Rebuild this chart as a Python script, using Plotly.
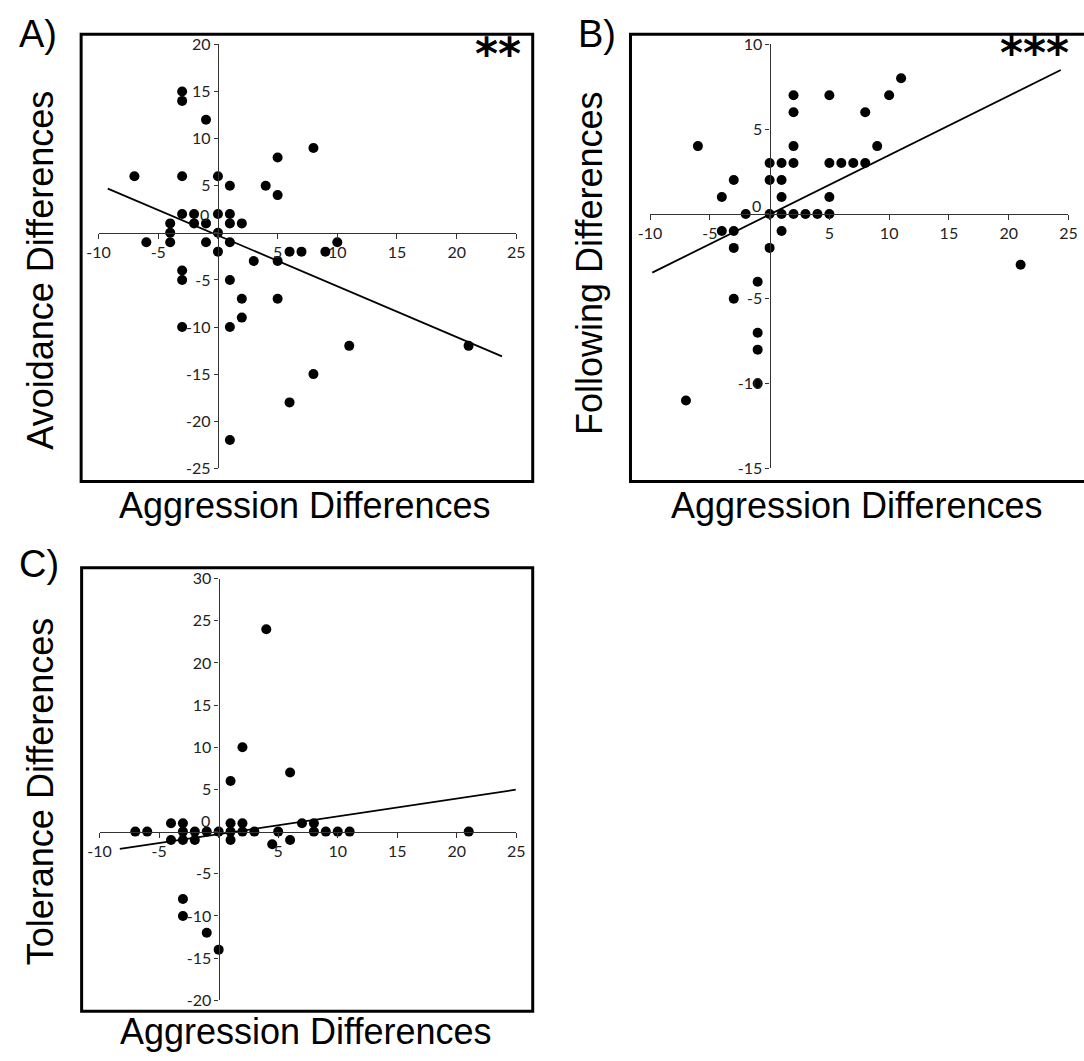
import plotly.graph_objects as go

W, H = 1084, 1061

# ---------------- data ----------------
# Panel A: Aggression vs Avoidance differences
A_x = [-3, -3, -1, 8, 5, -7, -3, 0, 1, 4, 5, -3, -2, 0, 1, -4, -2, -1, 1, 2,
       -4, 0, -6, -4, -1, 1, 10, 0, 6, 7, 9, 3, 5, -3, -3, 1, 2, 5, 2, -3,
       1, 11, 21, 8, 6, 1]
A_y = [15, 14, 12, 9, 8, 6, 6, 6, 5, 5, 4, 2, 2, 2, 2, 1, 1, 1, 1, 1,
       0, 0, -1, -1, -1, -1, -1, -2, -2, -2, -2, -3, -3, -4, -5, -5, -7, -7, -9, -10,
       -10, -12, -12, -15, -18, -22]
A_fit_x = [-9.23, 23.8]
A_fit_slope = -0.539
A_fit_intercept = -0.28

# Panel B: Aggression vs Following differences
B_x = [11, 2, 5, 10, 2, 8, -6, 2, 9, 0, 1, 2, 5, 6, 7, 8, -3, 0, 1, -4,
       1, 5, -2, 0, 1, 2, 3, 4, 5, -4, -3, 1, -3, 0, 21, -1, -3, -1, -1, -1, -7]
B_y = [8, 7, 7, 7, 6, 6, 4, 4, 4, 3, 3, 3, 3, 3, 3, 3, 2, 2, 2, 1,
       1, 1, 0, 0, 0, 0, 0, 0, 0, -1, -1, -1, -2, -2, -3, -4, -5, -7, -8, -10, -11]
B_fit_x = [-9.82, 24.36]
B_fit_slope = 0.3496
B_fit_intercept = -0.027

# Panel C: Aggression vs Tolerance differences
C_x = [4, 2, 6, 1, -4, -3, 1, 2, 7, 8, -7, -6, -3, -2, -1, 0, 1, 2, 3, 5,
       8, 9, 10, 11, 21, -4, -3, -2, 1, 4.5, 6, -3, -3, -1, 0]
C_y = [24, 10, 7, 6, 1, 1, 1, 1, 1, 1, 0, 0, 0, 0, 0, 0, 0, 0, 0, 0,
       0, 0, 0, 0, 0, -1, -1, -1, -1, -1.5, -1, -8, -10, -12, -14]
C_fit_x = [-8.3, 24.95]
C_fit_slope = 0.2114
C_fit_intercept = -0.305

# tick values / labels
x_tickvals = [-10, -5, 0, 5, 10, 15, 20, 25]
x_ticktext = ["-10", "-5", "", "5", "10", "15", "20", "25"]
A_tickvals = [-25, -20, -15, -10, -5, 0, 5, 10, 15, 20]
A_ticktext = ["-25", "-20", "-15", "-10", "-5", "", "5", "10", "15", "20"]
B_tickvals = [-15, -10, -5, 0, 5, 10]
B_ticktext = ["-15", "-10", "-5", "", "5", "10"]
C_tickvals = [-20, -15, -10, -5, 0, 5, 10, 15, 20, 25, 30]
C_ticktext = ["-20", "-15", "-10", "-5", "", "5", "10", "15", "20", "25", "30"]

panel_letters = ["A)", "B)", "C)"]
y_titles = ["Avoidance Differences", "Following Differences", "Tolerance Differences"]
x_title = "Aggression Differences"
stars = ["**", "***", ""]

# ---------------- layout helpers (pixels -> paper fractions) ----------------
def fx(p):
    return p / W

def fy(p):
    return 1 - p / H

TICKFONT = dict(family="Lato", size=16, color="#222")
TITLEFONT = dict(family="Liberation Sans, Arial", size=36, color="black")

panels = [
    dict(xs=A_x, ys=A_y, fx_=A_fit_x, sl=A_fit_slope, ic=A_fit_intercept,
         xr=[-10, 25], yr=[-25, 20], xpx=[88.3, 514.3], ypx=[466.7, 35],
         tv=A_tickvals, tt=A_ticktext,
         frame=[70.5, 24.7, 531, 480], letter=(5, 24), ytitle=(29, 265),
         xtitle=(299, 505), star=(521, 44), zero_shift=18.7),
    dict(xs=B_x, ys=B_y, fx_=B_fit_x, sl=B_fit_slope, ic=B_fit_intercept,
         xr=[-10, 25], yr=[-15, 10], xpx=[650.7, 1077.3], ypx=[466.7, 35],
         tv=B_tickvals, tt=B_ticktext,
         frame=[630.7, 24.7, 1110, 480], letter=(575, 24), ytitle=(589, 258),
         xtitle=(862, 505), star=(1080, 43), zero_shift=8.7),
    dict(xs=C_x, ys=C_y, fx_=C_fit_x, sl=C_fit_slope, ic=C_fit_intercept,
         xr=[-10, 25], yr=[-20, 30], xpx=[89.3, 514.3], ypx=[1008.3, 579],
         tv=C_tickvals, tt=C_ticktext,
         frame=[71, 568, 531, 1019.5], letter=(5, 564), ytitle=(29, 795),
         xtitle=(300, 1040), star=None, zero_shift=11),
]

fig = go.Figure()
layout = dict(width=W, height=H, margin=dict(l=0, r=0, t=0, b=0),
              paper_bgcolor="white", plot_bgcolor="rgba(0,0,0,0)",
              showlegend=False, shapes=[], annotations=[])

axis_common = dict(showgrid=False, zeroline=False, showline=True,
                   linecolor="#333", linewidth=1.3, ticks="outside",
                   ticklen=5, tickwidth=1.3, tickcolor="#333",
                   tickfont=TICKFONT, tickmode="array", fixedrange=True)

for i, p in enumerate(panels):
    sfx = "" if i == 0 else str(i + 1)
    xname, yname = "x" + sfx, "y" + sfx
    px0, px1 = p["xpx"]
    r0, r1 = p["xr"]
    per_px = (r1 - r0) / (px1 - px0)
    px1c = min(px1, W)
    xrange = [r0, r0 + (px1c - px0) * per_px]
    xdom = [fx(px0), min(1.0, fx(px1c))]
    ydom = [fy(p["ypx"][0]), fy(p["ypx"][1])]
    # positions where the axes cross at zero
    xpos = ydom[0] + (0 - p["yr"][0]) / (p["yr"][1] - p["yr"][0]) * (ydom[1] - ydom[0])
    ypos = xdom[0] + (0 - xrange[0]) / (xrange[1] - xrange[0]) * (xdom[1] - xdom[0])

    layout["xaxis" + sfx] = dict(axis_common, domain=xdom, range=xrange,
                                 anchor="free", position=xpos, side="bottom",
                                 tickvals=x_tickvals, ticktext=x_ticktext)
    layout["yaxis" + sfx] = dict(axis_common, domain=ydom, range=p["yr"],
                                 anchor="free", position=ypos, side="left",
                                 ticklen=4, tickvals=p["tv"], ticktext=p["tt"])

    fig.add_trace(go.Scatter(x=p["xs"], y=p["ys"], mode="markers",
                             marker=dict(size=10, color="black"),
                             cliponaxis=False, xaxis=xname, yaxis=yname))
    fit_y = [p["ic"] + p["sl"] * v for v in p["fx_"]]
    fig.add_trace(go.Scatter(x=p["fx_"], y=fit_y, mode="lines",
                             line=dict(color="black", width=1.8),
                             cliponaxis=False, xaxis=xname, yaxis=yname))

    # frame
    x0, y0, x1, y1 = p["frame"]
    layout["shapes"].append(dict(type="rect", xref="paper", yref="paper",
                                 x0=fx(x0), x1=fx(x1), y0=fy(y1), y1=fy(y0),
                                 line=dict(color="black", width=3),
                                 fillcolor="rgba(0,0,0,0)", layer="above"))
    # "0" label (offset above the origin as in the original)
    layout["annotations"].append(dict(text="0", xref=xname, yref=yname, x=0, y=0,
                                      xanchor="right", yanchor="middle",
                                      xshift=-7, yshift=p["zero_shift"],
                                      showarrow=False, font=TICKFONT))
    # panel letter
    layout["annotations"].append(dict(text=panel_letters[i], xref="paper", yref="paper",
                                      x=fx(p["letter"][0]), y=fy(p["letter"][1]),
                                      xanchor="left", yanchor="middle",
                                      showarrow=False,
                                      font=dict(family="Liberation Sans, Arial",
                                                size=38, color="black")))
    # y title
    layout["annotations"].append(dict(text=y_titles[i], xref="paper", yref="paper",
                                      x=fx(p["ytitle"][0]), y=fy(p["ytitle"][1]),
                                      xanchor="center", yanchor="middle",
                                      textangle=-90, showarrow=False, font=TITLEFONT))
    # x title
    layout["annotations"].append(dict(text=x_title, xref="paper", yref="paper",
                                      x=fx(p["xtitle"][0]), y=fy(p["xtitle"][1]),
                                      xanchor="center", yanchor="middle",
                                      showarrow=False, font=TITLEFONT))
    # significance stars
    if p["star"] is not None and stars[i]:
        layout["annotations"].append(dict(text=stars[i], xref="paper", yref="paper",
                                          x=min(1.0, fx(p["star"][0])), y=fy(p["star"][1]),
                                          xanchor="right", yanchor="middle",
                                          showarrow=False,
                                          font=dict(family="DejaVu Sans", size=44,
                                                    color="black", weight="bold")))

fig.update_layout(**layout)
fig.write_html("out.html", config={"displayModeBar": False},
               post_script="document.body.style.margin='0';document.body.style.overflow='hidden';")
